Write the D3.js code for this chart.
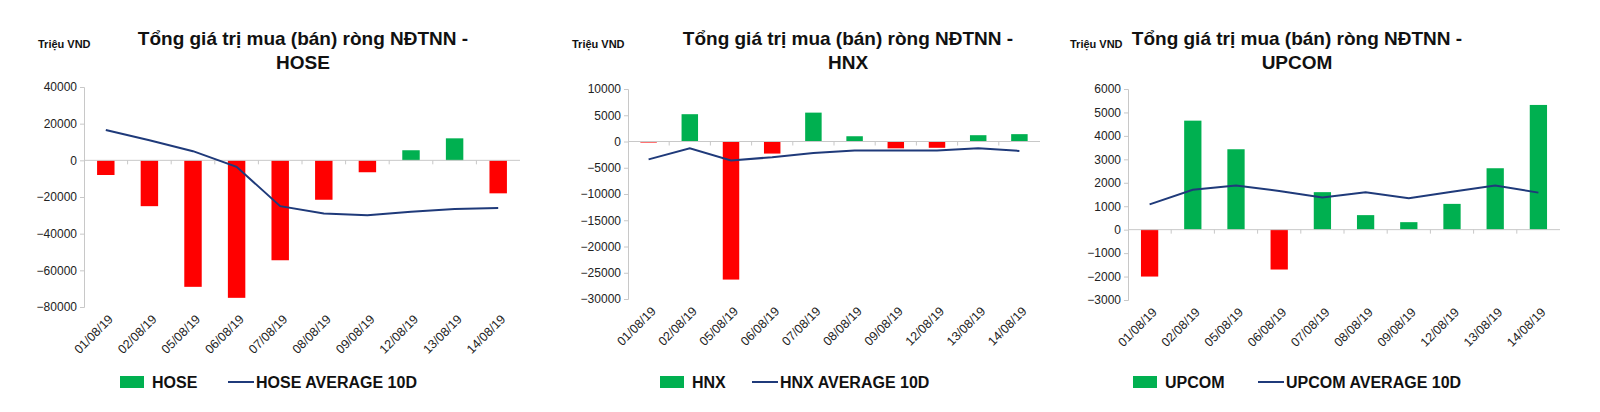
<!DOCTYPE html>
<html><head><meta charset="utf-8">
<script src="https://cdn.jsdelivr.net/npm/d3@7"></script>
<style>body{margin:0;background:#fff;font-family:Arial,"Liberation Sans",sans-serif}</style>
</head><body>
<script>
// shared categories
var dates = ["01/08/19","02/08/19","05/08/19","06/08/19","07/08/19","08/08/19","09/08/19","12/08/19","13/08/19","14/08/19"];

var hoseNet = [-8000,-25000,-69000,-75000,-54500,-21500,-6500,5500,12000,-18000];
var hoseAvg = [16500,11000,5000,-3500,-25000,-29000,-30000,-28000,-26500,-26000];
var hoseTicks = [40000,20000,0,-20000,-40000,-60000,-80000];

var hnxNet = [-200,5200,-26300,-2300,5500,1000,-1300,-1200,1200,1400];
var hnxAvg = [-3400,-1300,-3600,-3000,-2200,-1700,-1700,-1700,-1300,-1800];
var hnxTicks = [10000,5000,0,-5000,-10000,-15000,-20000,-25000,-30000];

var upNet = [-2000,4650,3430,-1700,1600,620,320,1100,2620,5320];
var upAvg = [1080,1700,1880,1650,1370,1600,1340,1620,1880,1580];
var upTicks = [6000,5000,4000,3000,2000,1000,0,-1000,-2000,-3000];

var svg = d3.select("body").append("svg").attr("width",1600).attr("height",412);

drawChart({name:"HOSE", net:hoseNet, avg:hoseAvg, ticks:hoseTicks, x0:84, x1:520, y0:87, y1:307, titleX:303, unitX:38, legX:120, lineX:228});
drawChart({name:"HNX", net:hnxNet, avg:hnxAvg, ticks:hnxTicks, x0:628, x1:1040, y0:89, y1:299, titleX:848, unitX:572, legX:660, lineX:752});
drawChart({name:"UPCOM", net:upNet, avg:upAvg, ticks:upTicks, x0:1128, x1:1560, y0:89, y1:300, titleX:1297, unitX:1070, legX:1133, lineX:1258});

function drawChart(c){
    var g = svg.append("g");
    var x = d3.scaleBand().domain(dates).range([c.x0,c.x1]).paddingInner(0.6).paddingOuter(0.3);
    var xb = d3.scaleBand().domain(dates).range([c.x0,c.x1]);
    var y = d3.scaleLinear().domain([d3.min(c.ticks), d3.max(c.ticks)]).range([c.y1,c.y0]);

    // title + unit
    g.append("text").attr("x",c.titleX).attr("y",45).attr("text-anchor","middle")
	.attr("font-size",19).attr("font-weight","bold").attr("fill","#111")
	.text("Tổng giá trị mua (bán) ròng NĐTNN -");
    g.append("text").attr("x",c.titleX).attr("y",69).attr("text-anchor","middle")
	.attr("font-size",19).attr("font-weight","bold").attr("fill","#111").text(c.name);
    g.append("text").attr("x",c.unitX).attr("y",48).attr("font-size",11)
	.attr("font-weight","bold").attr("fill","#111").text("Triệu VND");

    // y axis
    var ya = g.append("g").attr("transform","translate("+c.x0+",0)")
	.call(d3.axisLeft(y).tickValues(c.ticks).tickSize(4).tickFormat(d3.format("d")));
    ya.select(".domain").attr("stroke","#c8c8c8");
    ya.selectAll(".tick line").attr("stroke","#c8c8c8");
    ya.selectAll("text").attr("font-size",12).attr("fill","#222").attr("font-family","Arial");

    // bars
    g.selectAll(".bar").data(c.net).enter().append("rect")
	.attr("x",function(d,i){return x(dates[i]);})
	.attr("width",x.bandwidth())
	.attr("y",function(d){return y(Math.max(0,d));})
	.attr("height",function(d){return Math.abs(y(d)-y(0));})
	.attr("fill",function(d){return d<0 ? "#ff0000" : "#00b050";});

    // zero axis with ticks
    g.append("line").attr("x1",c.x0).attr("x2",c.x1).attr("y1",y(0)).attr("y2",y(0)).attr("stroke","#c8c8c8");
    g.selectAll(".ct").data(dates.slice(1)).enter().append("line")
	.attr("x1",function(d){return xb(d);}).attr("x2",function(d){return xb(d);})
	.attr("y1",y(0)).attr("y2",y(0)+4).attr("stroke","#c8c8c8");

    // average line
    var line = d3.line().x(function(d,i){return xb(dates[i])+xb.bandwidth()/2;}).y(function(d){return y(d);});
    g.append("path").datum(c.avg).attr("d",line).attr("fill","none").attr("stroke","#1f3a7a").attr("stroke-width",2);

    // date labels
    g.selectAll(".dl").data(dates).enter().append("text")
	.attr("transform",function(d){return "translate("+(xb(d)+xb.bandwidth()/2+8)+","+(c.y1+13)+") rotate(-45)";})
	.attr("text-anchor","end").attr("font-size",12.5).attr("fill","#222").text(function(d){return d;});

    // legend
    var ly = 382;
    g.append("rect").attr("x",c.legX).attr("y",ly-6).attr("width",24).attr("height",12).attr("fill","#00b050");
    g.append("text").attr("x",c.legX+32).attr("y",ly+6).attr("font-size",16).attr("font-weight","bold").attr("fill","#111").text(c.name);
    g.append("line").attr("x1",c.lineX).attr("x2",c.lineX+26).attr("y1",ly).attr("y2",ly).attr("stroke","#1f3a7a").attr("stroke-width",2);
    g.append("text").attr("x",c.lineX+28).attr("y",ly+6).attr("font-size",16).attr("font-weight","bold").attr("fill","#111").text(c.name+" AVERAGE 10D");
}
</script>
</body></html>
